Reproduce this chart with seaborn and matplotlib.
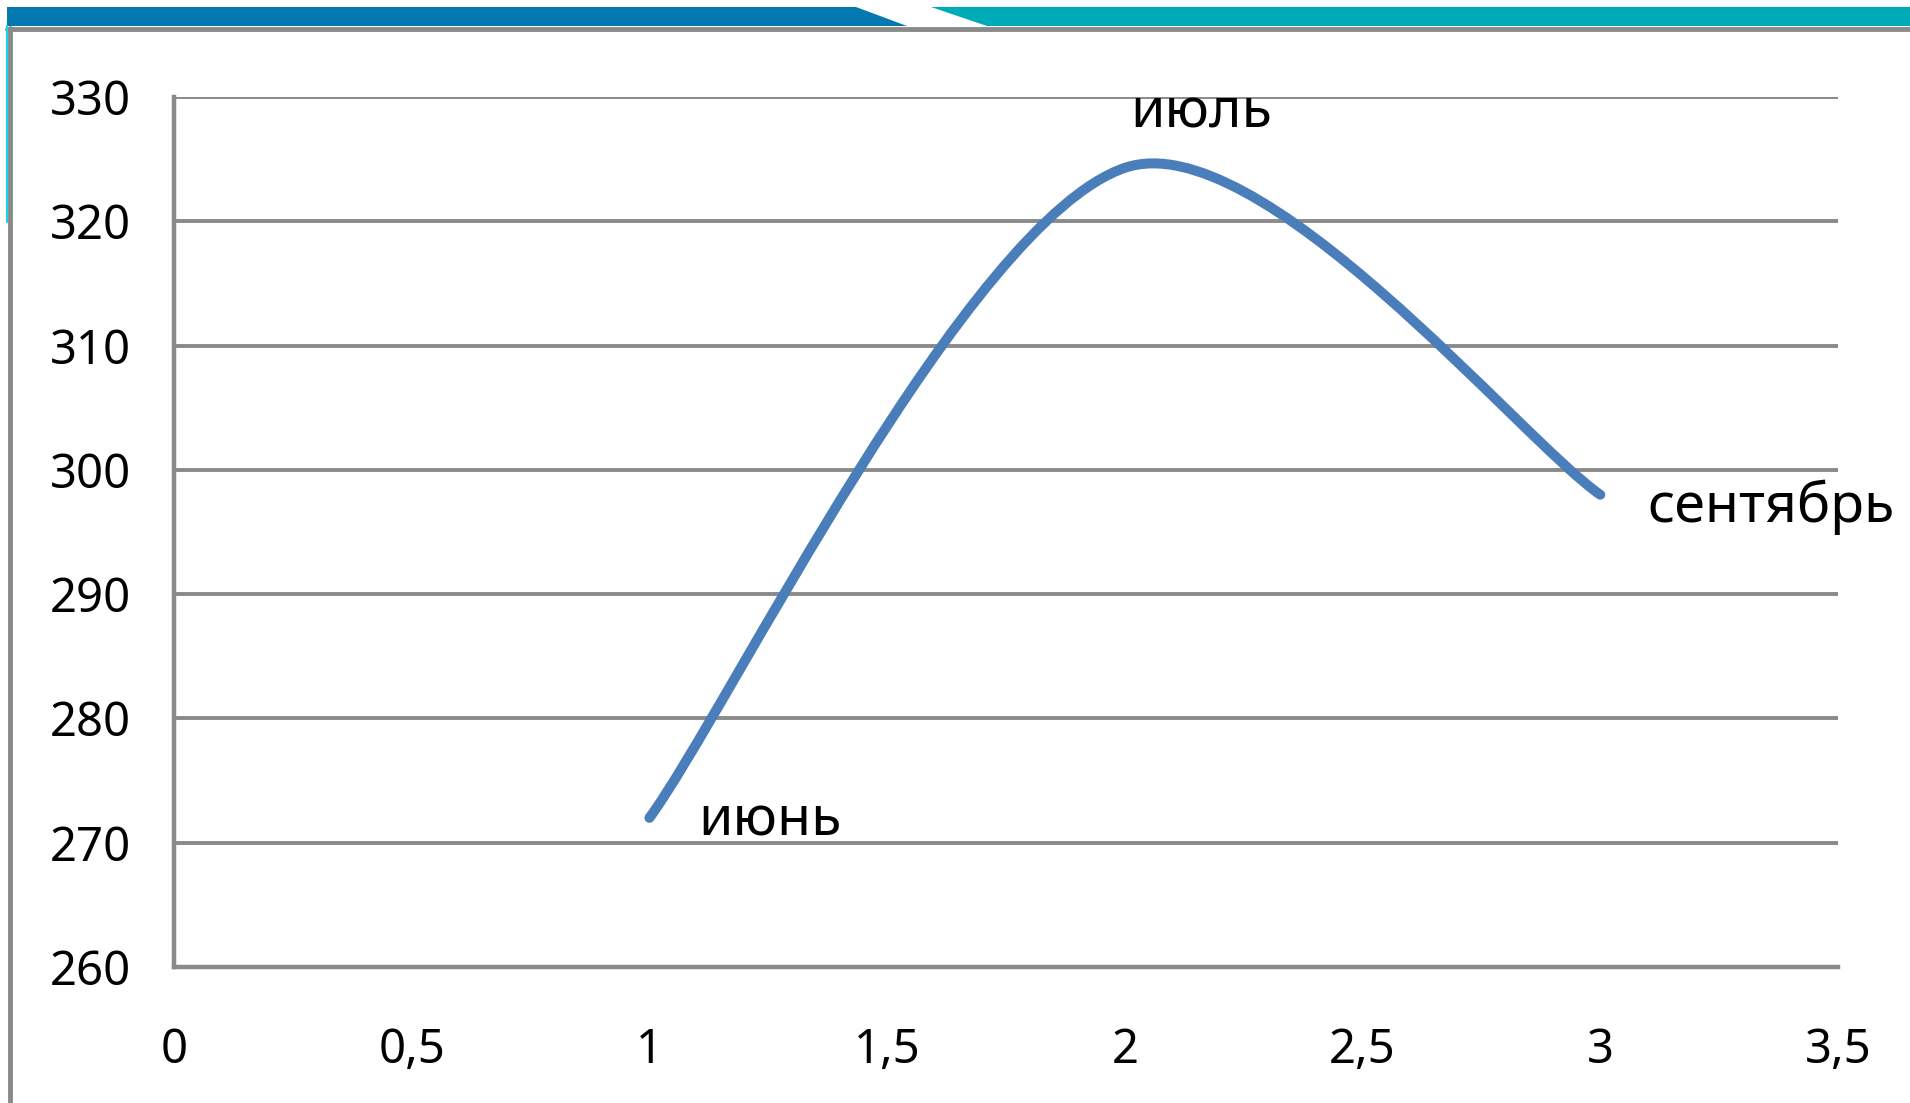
import matplotlib
matplotlib.use("Agg")
import matplotlib.pyplot as plt
import seaborn as sns
import numpy as np
from matplotlib.path import Path
from matplotlib.patches import PathPatch, Polygon
from matplotlib.lines import Line2D

# DATOS
x_vals = [1, 2, 3]
y_vals = [272, 324.3, 298]
labels = ["июнь", "июль", "сентябрь"]
x_ticks = [0, 0.5, 1, 1.5, 2, 2.5, 3, 3.5]
x_tick_labels = ["0", "0,5", "1", "1,5", "2", "2,5", "3", "3,5"]
y_ticks = [260, 270, 280, 290, 300, 310, 320, 330]

sns.set_theme(style="white")
plt.rcParams["font.family"] = ["Noto Sans", "DejaVu Sans"]

W, H = 1910, 1103
fig = plt.figure(figsize=(W / 100, H / 100), dpi=100)
fig.patch.set_facecolor("white")


def fx(px):
    return px / W


def fy(py):
    return 1 - py / H


# DECORACION SUPERIOR
fig.add_artist(Polygon([(fx(7), fy(7)), (fx(856), fy(7)), (fx(907), fy(26)), (fx(7), fy(26))],
                       closed=True, facecolor="#0379b0", edgecolor="none", transform=fig.transFigure))
fig.add_artist(Polygon([(fx(931), fy(7)), (fx(1910), fy(7)), (fx(1910), fy(26)), (fx(987), fy(26))],
                       closed=True, facecolor="#00abb8", edgecolor="none", transform=fig.transFigure))
fig.add_artist(Line2D([fx(7), fx(1910)], [fy(29), fy(29)], color="#8a8a8a", lw=3.5,
                      transform=fig.transFigure))
fig.add_artist(Line2D([fx(7), fx(7)], [fy(26), fy(222)], color="#10d8e8", lw=1.5,
                      transform=fig.transFigure))
fig.add_artist(Line2D([fx(10), fx(10)], [fy(28), fy(1103)], color="#8a8a8a", lw=3.5,
                      transform=fig.transFigure))

# EJES
ax = fig.add_axes([174 / W, 1 - 967 / H, (1838 - 174) / W, (967 - 97) / H])
ax.set_xlim(0, 3.5)
ax.set_ylim(260, 330)
ax.set_xticks(x_ticks)
ax.set_xticklabels(x_tick_labels)
ax.set_yticks(y_ticks)
ax.set_yticklabels([str(v) for v in y_ticks])
ax.tick_params(axis="both", length=0, labelsize=34, colors="black")
ax.tick_params(axis="y", pad=31)
ax.tick_params(axis="x", pad=43)

ax.yaxis.grid(True, color="#8a8a8a", lw=2.8)
ax.xaxis.grid(False)
sns.despine(ax=ax, top=True, right=True)
for s in ["left", "bottom"]:
    ax.spines[s].set_color("#8a8a8a")
    ax.spines[s].set_linewidth(3.2)
ax.set_axisbelow(True)

# LINEA SUAVIZADA (bezier tipo Excel, calculada en pixeles)
pix = ax.transData.transform(np.column_stack([x_vals, y_vals]))
n = len(pix)
seg_len = [np.hypot(*(pix[i + 1] - pix[i])) for i in range(n - 1)]
verts = [pix[0]]
codes = [Path.MOVETO]
for i in range(n - 1):
    p0 = pix[i - 1] if i > 0 else pix[i]
    p1 = pix[i]
    p2 = pix[i + 1]
    p3 = pix[i + 2] if i + 2 < n else pix[i + 1]
    k1 = min(1.0, seg_len[i] / seg_len[i - 1]) ** 0.5 if i > 0 else 1.0
    k2 = min(1.0, seg_len[i] / seg_len[i + 1]) ** 0.5 if i + 1 < n - 1 else 1.0
    c1 = p1 + (p2 - p0) / 6 * k1
    c2 = p2 - (p3 - p1) / 6 * k2
    verts += [c1, c2, p2]
    codes += [Path.CURVE4] * 3
verts = ax.transData.inverted().transform(np.array(verts))
ax.add_patch(PathPatch(Path(verts, codes), facecolor="none", edgecolor="#4a7ebb",
                       lw=7.2, capstyle="round", joinstyle="round", zorder=3))

# ETIQUETAS
offsets = [(49, -18), (5, 40), (47, -27)]
for xv, yv, lab, off in zip(x_vals, y_vals, labels, offsets):
    ax.annotate(lab, (xv, yv), xytext=off, textcoords="offset pixels",
                ha="left", va="baseline", fontsize=40, color="black",
                annotation_clip=False)

plt.savefig("out.png", dpi=100)
plt.close()
